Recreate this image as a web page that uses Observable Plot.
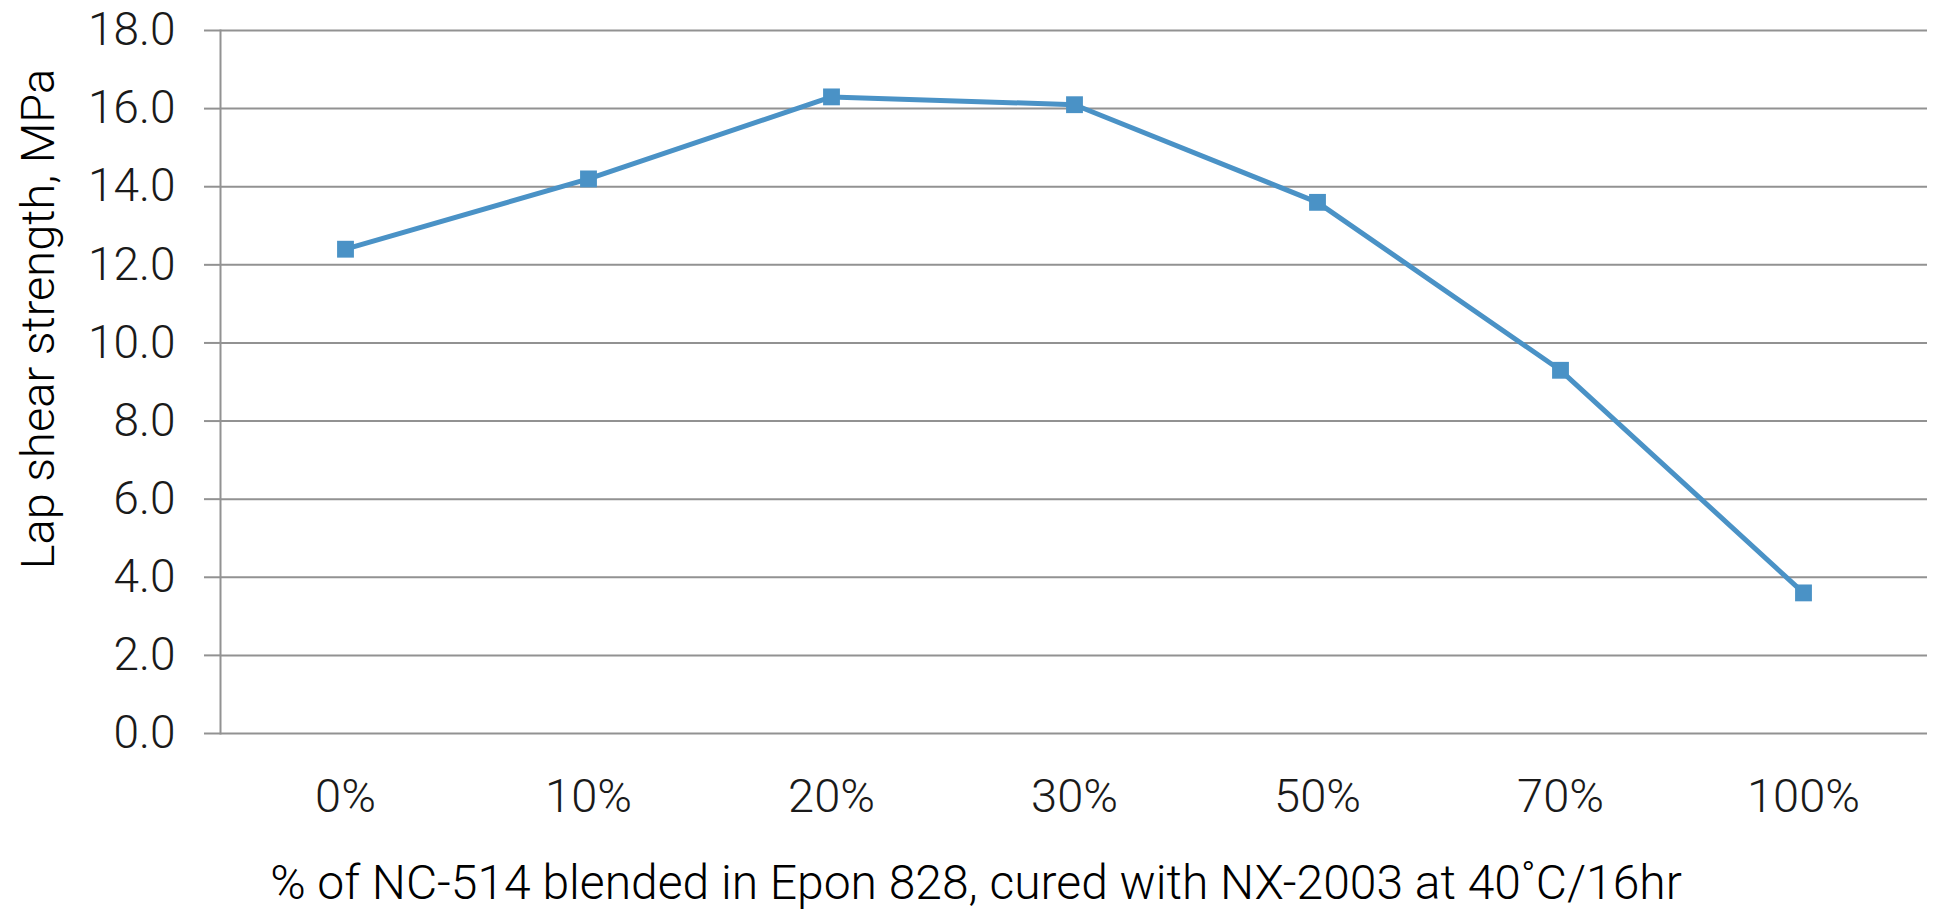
<!DOCTYPE html>
<html>
<head>
<meta charset="utf-8">
<script src="https://cdn.jsdelivr.net/npm/d3@7"></script>
<script src="https://cdn.jsdelivr.net/npm/@observablehq/plot@0.6"></script>
<style>
  html, body { margin: 0; padding: 0; background: #fff; }
  #chart svg { display: block; }
</style>
</head>
<body>
<div id="chart"></div>
<script>
const categories = ["0%", "10%", "20%", "30%", "50%", "70%", "100%"];
const strength = [12.4, 14.2, 16.3, 16.1, 13.6, 9.3, 3.6];
const yTicks = [0, 2, 4, 6, 8, 10, 12, 14, 16, 18];
const yLabel = "Lap shear strength, MPa";
const xLabel = "% of NC-514 blended in Epon 828, cured with NX-2003 at 40˚C/16hr";

const data = categories.map((c, i) => ({cat: c, value: strength[i]}));

const gray = "#929292";
const blue = "#4a92c6";
const font = "Roboto, 'Helvetica Neue', Helvetica, Arial, sans-serif";

const chart = Plot.plot({
  width: 1937,
  height: 913,
  marginLeft: 220,
  marginRight: 10,
  marginTop: 30,
  marginBottom: 180,
  style: {fontFamily: font, fontSize: "46px", fontWeight: 300, color: "#1a1a1a", background: "#fff"},
  x: {type: "point", domain: categories, padding: 0.5, label: null},
  y: {domain: [0, 18], label: null},
  marks: [
    Plot.gridY(yTicks, {stroke: gray, strokeOpacity: 1, strokeWidth: 2}),
    Plot.frame({anchor: "left", stroke: gray, strokeOpacity: 1, strokeWidth: 2}),
    Plot.axisY(yTicks, {tickSize: 16, tickPadding: 29, stroke: gray, strokeOpacity: 1, strokeWidth: 2, tickFormat: d3.format(".1f"), label: null, fontSize: 46}),
    Plot.axisX({tickSize: 0, tickPadding: 45, label: null, fontSize: 47}),
    Plot.line(data, {x: "cat", y: "value", stroke: blue, strokeWidth: 5}),
    Plot.dot(data, {x: "cat", y: "value", symbol: "square", r: 9.5, fill: blue, stroke: "none"}),
    Plot.text([yLabel], {text: d => d, frameAnchor: "left", textAnchor: "middle", lineAnchor: "middle", rotate: -90, dx: -182, dy: -63, fontSize: 47, fill: "#000"}),
    Plot.text([xLabel], {text: d => d, frameAnchor: "bottom", textAnchor: "middle", lineAnchor: "middle", dx: -98, dy: 150, fontSize: 48, fill: "#000"})
  ]
});
document.getElementById("chart").appendChild(chart);
</script>
</body>
</html>
